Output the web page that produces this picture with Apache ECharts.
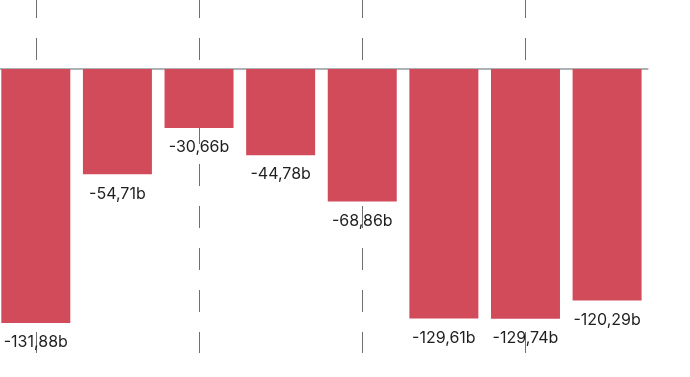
<!DOCTYPE html>
<html>
<head>
<meta charset="utf-8">
<script src="https://cdn.jsdelivr.net/npm/echarts@6/dist/echarts.min.js"></script>
<style>html,body{margin:0;padding:0;background:#fff;overflow:hidden}#c{position:absolute;left:-5px;top:0;width:695px;height:377px}</style>
</head>
<body>
<div id="c"></div>
<script>
var categories = ['1', '2', '3', '4', '5', '6', '7', '8'];
var values = [-131.88, -54.71, -30.66, -44.78, -68.86, -129.61, -129.74, -120.29];
var gridSlots = ['0','1','2','3','4','5','6','7','8','9','10','11','12','13','14','15','16'];

var chart = echarts.init(document.getElementById('c'), null, {renderer: 'canvas'});
chart.setOption({
  animation: false,
  grid: {left: 0, right: 42.1, top: 0, bottom: 24, containLabel: false},
  xAxis: [{
    type: 'category',
    data: categories,
    axisLine: {show: true, onZero: true, lineStyle: {color: '#929a9c', width: 1.5}},
    axisTick: {show: false},
    axisLabel: {show: false},
    splitLine: {show: false}
  }, {
    type: 'category',
    data: gridSlots,
    boundaryGap: false,
    position: 'top',
    axisLine: {show: false},
    axisTick: {show: false},
    axisLabel: {show: false},
    splitLine: {
      show: true,
      interval: function (index) { return index % 4 === 1; },
      lineStyle: {color: '#6f6f6f', width: 1, type: [22, 20], dashOffset: 4}
    }
  }],
  yAxis: {
    type: 'value',
    min: -147.5,
    max: 35.8,
    axisLine: {show: false},
    axisTick: {show: false},
    axisLabel: {show: false},
    splitLine: {show: false}
  },
  series: [{
    type: 'bar',
    data: values,
    barWidth: 69,
    itemStyle: {color: '#d24b5b'},
    label: {
      show: true,
      position: 'bottom',
      distance: 11.5,
      color: '#1f1f1f',
      fontFamily: 'Inter',
      fontSize: 16,
      formatter: function (p) { return p.value.toFixed(2).replace('.', ',') + 'b'; }
    }
  }]
});
</script>
</body>
</html>
